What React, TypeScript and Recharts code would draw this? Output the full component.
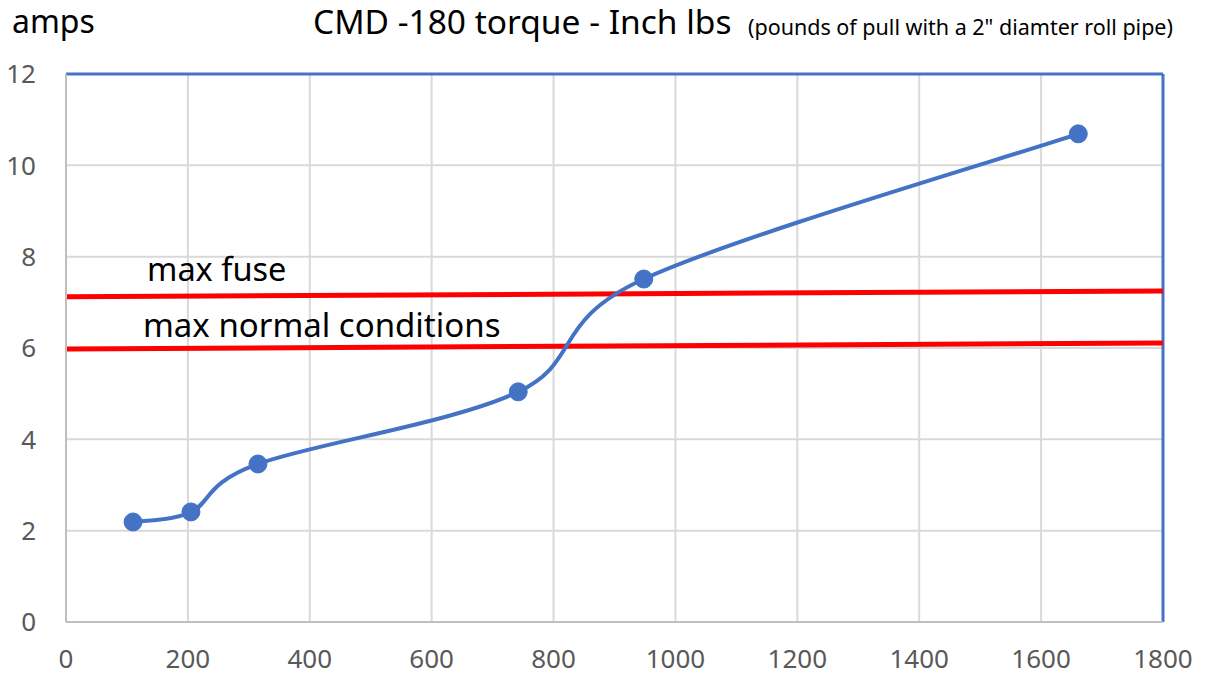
import {
  LineChart,
  Line,
  XAxis,
  YAxis,
  CartesianGrid,
  ReferenceLine,
} from "recharts";

// measured points: torque (inch lbs) vs amps
const torque = [110, 205, 315, 742, 948, 1661];
const amps = [2.19, 2.41, 3.46, 5.04, 7.51, 10.69];

// the two hand-drawn red limit lines (slightly tilted in the original)
const fuseX = [0, 1800];
const fuseY = [7.12, 7.25];
const normalX = [0, 1800];
const normalY = [5.98, 6.11];

const xTicks = [0, 200, 400, 600, 800, 1000, 1200, 1400, 1600, 1800];
const yTicks = [0, 2, 4, 6, 8, 10, 12];

const data = torque.map((t, i) => ({ x: t, amps: amps[i] }));
const fuse = fuseX.map((x, i) => ({ x, fuse: fuseY[i] }));
const normal = normalX.map((x, i) => ({ x, normal: normalY[i] }));

const BLUE = "#4472C4";
const FONT = "'Noto Sans', sans-serif";

// excel style smoothed line (catmull-rom like bezier)
const excelCurve = (context: any) => {
  let pts: [number, number][] = [];
  return {
    areaStart() {},
    areaEnd() {},
    lineStart() {
      pts = [];
    },
    point(x: number, y: number) {
      pts.push([+x, +y]);
    },
    lineEnd() {
      if (!pts.length) return;
      context.moveTo(pts[0][0], pts[0][1]);
      for (let i = 0; i < pts.length - 1; i++) {
        const p0 = pts[i - 1] || pts[i];
        const p1 = pts[i];
        const p2 = pts[i + 1];
        const p3 = pts[i + 2] || p2;
        context.bezierCurveTo(
          p1[0] + (p2[0] - p0[0]) / 6,
          p1[1] + (p2[1] - p0[1]) / 6,
          p2[0] - (p3[0] - p1[0]) / 6,
          p2[1] - (p3[1] - p1[1]) / 6,
          p2[0],
          p2[1]
        );
      }
    },
  };
};

const tickStyle = { fill: "#595959", fontSize: 26, fontFamily: FONT };

const txt = (left: number, top: number, size: number) => ({
  position: "absolute" as const,
  left,
  top,
  fontSize: size,
  lineHeight: 1.3,
  color: "#000",
  whiteSpace: "nowrap" as const,
});

export default function App() {
  return (
    <div
      style={{
        position: "absolute",
        left: 0,
        top: 0,
        width: 1209,
        height: 677,
        background: "#fff",
        fontFamily: FONT,
      }}
    >
      <LineChart
        width={1209}
        height={677}
        margin={{ top: 74, right: 46, left: 0, bottom: 0 }}
      >
        <CartesianGrid stroke="#d9d9d9" strokeWidth={2} />
        <XAxis
          dataKey="x"
          type="number"
          domain={[0, 1800]}
          ticks={xTicks}
          height={55}
          tickLine={false}
          tickSize={0}
          tickMargin={28}
          stroke="#bfbfbf"
          strokeWidth={2}
          tick={tickStyle}
          allowDuplicatedCategory={false}
        />
        <YAxis
          type="number"
          domain={[0, 12]}
          ticks={yTicks}
          width={66}
          tickLine={false}
          tickSize={0}
          tickMargin={30}
          stroke="#bfbfbf"
          strokeWidth={2}
          tick={tickStyle}
        />
        <ReferenceLine y={12} stroke={BLUE} strokeWidth={3} />
        <ReferenceLine x={1800} stroke={BLUE} strokeWidth={3} />
        <Line
          data={fuse}
          dataKey="fuse"
          type="linear"
          stroke="#ff0000"
          strokeWidth={5}
          dot={false}
          isAnimationActive={false}
        />
        <Line
          data={normal}
          dataKey="normal"
          type="linear"
          stroke="#ff0000"
          strokeWidth={5}
          dot={false}
          isAnimationActive={false}
        />
        <Line
          data={data}
          dataKey="amps"
          type={excelCurve as any}
          stroke={BLUE}
          strokeWidth={4}
          dot={{ r: 9, fill: BLUE, stroke: BLUE, strokeWidth: 1 }}
          isAnimationActive={false}
        />
      </LineChart>
      <div style={txt(12, 0, 32)}>amps</div>
      <div style={txt(313, 0, 33.5)}>CMD -180 torque - Inch lbs</div>
      <div style={txt(748, 13, 21.5)}>(pounds of pull with a 2" diamter roll pipe)</div>
      <div style={txt(147, 248, 32.5)}>max fuse</div>
      <div style={txt(143, 304, 33)}>max normal conditions</div>
    </div>
  );
}
